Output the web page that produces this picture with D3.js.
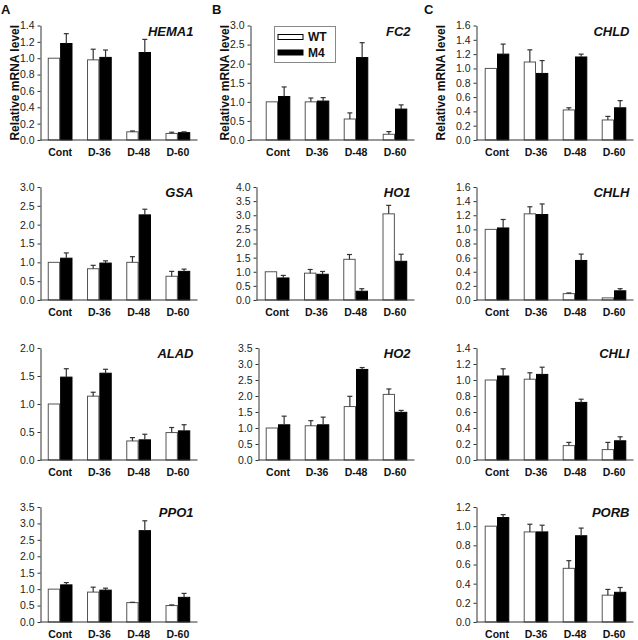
<!DOCTYPE html>
<html>
<head>
<meta charset="utf-8">
<script src="https://cdn.jsdelivr.net/npm/d3@7"></script>
<style>
  html, body { margin: 0; padding: 0; background: #fff; }
  svg { display: block; font-family: "Liberation Sans", Arial, sans-serif; }
</style>
</head>
<body>
<svg id="chart" width="638" height="640"></svg>
<script>
// ---------- DATA ----------
const categories = ["Cont", "D-36", "D-48", "D-60"];
const seriesNames = ["WT", "M4"];

const HEMA1_WT = [1.00, 0.98, 0.10, 0.08];
const HEMA1_WT_ERR = [0, 0.13, 0.01, 0.015];
const HEMA1_M4 = [1.18, 1.01, 1.07, 0.09];
const HEMA1_M4_ERR = [0.12, 0.09, 0.16, 0.01];
const HEMA1_TICKS = [0, 0.2, 0.4, 0.6, 0.8, 1.0, 1.2, 1.4];

const GSA_WT = [1.00, 0.83, 1.00, 0.63];
const GSA_WT_ERR = [0, 0.09, 0.15, 0.13];
const GSA_M4 = [1.11, 0.98, 2.26, 0.76];
const GSA_M4_ERR = [0.14, 0.06, 0.15, 0.06];
const GSA_TICKS = [0, 0.5, 1.0, 1.5, 2.0, 2.5, 3.0];

const ALAD_WT = [1.00, 1.14, 0.34, 0.49];
const ALAD_WT_ERR = [0, 0.07, 0.06, 0.09];
const ALAD_M4 = [1.48, 1.55, 0.36, 0.52];
const ALAD_M4_ERR = [0.15, 0.07, 0.10, 0.11];
const ALAD_TICKS = [0, 0.5, 1.0, 1.5, 2.0];

const PPO1_WT = [1.00, 0.91, 0.59, 0.50];
const PPO1_WT_ERR = [0, 0.15, 0.01, 0.02];
const PPO1_M4 = [1.13, 0.97, 2.78, 0.75];
const PPO1_M4_ERR = [0.07, 0.06, 0.30, 0.12];
const PPO1_TICKS = [0, 0.5, 1.0, 1.5, 2.0, 2.5, 3.0, 3.5];

const FC2_WT = [1.00, 1.00, 0.55, 0.15];
const FC2_WT_ERR = [0, 0.10, 0.16, 0.07];
const FC2_M4 = [1.14, 1.02, 2.16, 0.81];
const FC2_M4_ERR = [0.25, 0.09, 0.39, 0.11];
const FC2_TICKS = [0, 0.5, 1.0, 1.5, 2.0, 2.5, 3.0];

const HO1_WT = [1.00, 0.95, 1.44, 3.05];
const HO1_WT_ERR = [0, 0.13, 0.17, 0.30];
const HO1_M4 = [0.78, 0.91, 0.31, 1.37];
const HO1_M4_ERR = [0.09, 0.10, 0.09, 0.25];
const HO1_TICKS = [0, 0.5, 1.0, 1.5, 2.0, 2.5, 3.0, 3.5, 4.0];

const HO2_WT = [1.00, 1.07, 1.67, 2.05];
const HO2_WT_ERR = [0, 0.16, 0.32, 0.17];
const HO2_M4 = [1.10, 1.10, 2.83, 1.49];
const HO2_M4_ERR = [0.27, 0.24, 0.06, 0.06];
const HO2_TICKS = [0, 0.5, 1.0, 1.5, 2.0, 2.5, 3.0, 3.5];

const CHLD_WT = [1.00, 1.09, 0.42, 0.28];
const CHLD_WT_ERR = [0, 0.17, 0.03, 0.05];
const CHLD_M4 = [1.20, 0.93, 1.16, 0.45];
const CHLD_M4_ERR = [0.14, 0.18, 0.04, 0.10];
const CHLD_TICKS = [0, 0.2, 0.4, 0.6, 0.8, 1.0, 1.2, 1.4, 1.6];

const CHLH_WT = [1.00, 1.22, 0.09, 0.03];
const CHLH_WT_ERR = [0, 0.10, 0.01, 0];
const CHLH_M4 = [1.02, 1.21, 0.56, 0.13];
const CHLH_M4_ERR = [0.12, 0.15, 0.09, 0.03];
const CHLH_TICKS = [0, 0.2, 0.4, 0.6, 0.8, 1.0, 1.2, 1.4, 1.6];

const CHLI_WT = [1.00, 1.01, 0.18, 0.13];
const CHLI_WT_ERR = [0, 0.08, 0.04, 0.09];
const CHLI_M4 = [1.05, 1.07, 0.72, 0.24];
const CHLI_M4_ERR = [0.09, 0.09, 0.04, 0.05];
const CHLI_TICKS = [0, 0.2, 0.4, 0.6, 0.8, 1.0, 1.2, 1.4];

const PORB_WT = [1.00, 0.94, 0.56, 0.28];
const PORB_WT_ERR = [0, 0.08, 0.08, 0.06];
const PORB_M4 = [1.09, 0.94, 0.90, 0.31];
const PORB_M4_ERR = [0.03, 0.07, 0.08, 0.05];
const PORB_TICKS = [0, 0.2, 0.4, 0.6, 0.8, 1.0, 1.2];

const yLabel = "Relative mRNA level";

// ---------- LAYOUT ----------
const rowsY = [[25.5, 140], [187, 300], [348, 460], [507, 622]];
const panels = [
  {gene: "HEMA1", wt: HEMA1_WT, wtE: HEMA1_WT_ERR, m4: HEMA1_M4, m4E: HEMA1_M4_ERR, ticks: HEMA1_TICKS, fmt: ".1f", row: 0, axisX: 40.5, b0: 40.5, b1: 197.5, ylab: 15.3, letter: "A", lx: 1},
  {gene: "GSA", wt: GSA_WT, wtE: GSA_WT_ERR, m4: GSA_M4, m4E: GSA_M4_ERR, ticks: GSA_TICKS, row: 1, axisX: 40.5, b0: 40.5, b1: 197.5},
  {gene: "ALAD", wt: ALAD_WT, wtE: ALAD_WT_ERR, m4: ALAD_M4, m4E: ALAD_M4_ERR, ticks: ALAD_TICKS, row: 2, axisX: 40.5, b0: 40.5, b1: 197.5},
  {gene: "PPO1", wt: PPO1_WT, wtE: PPO1_WT_ERR, m4: PPO1_M4, m4E: PPO1_M4_ERR, ticks: PPO1_TICKS, row: 3, axisX: 40.5, b0: 40.5, b1: 197.5},
  {gene: "FC2", wt: FC2_WT, wtE: FC2_WT_ERR, m4: FC2_M4, m4E: FC2_M4_ERR, ticks: FC2_TICKS, row: 0, axisX: 250.5, b0: 258.5, b1: 414.5, ylab: 224.7, letter: "B", lx: 212, legend: true},
  {gene: "HO1", wt: HO1_WT, wtE: HO1_WT_ERR, m4: HO1_M4, m4E: HO1_M4_ERR, ticks: HO1_TICKS, row: 1, axisX: 256.5, b0: 257.5, b1: 414.5},
  {gene: "HO2", wt: HO2_WT, wtE: HO2_WT_ERR, m4: HO2_M4, m4E: HO2_M4_ERR, ticks: HO2_TICKS, row: 2, axisX: 258.5, b0: 258.5, b1: 414.5},
  {gene: "CHLD", wt: CHLD_WT, wtE: CHLD_WT_ERR, m4: CHLD_M4, m4E: CHLD_M4_ERR, ticks: CHLD_TICKS, row: 0, axisX: 476.5, b0: 477.5, b1: 633.5, ylab: 441, letter: "C", lx: 424},
  {gene: "CHLH", wt: CHLH_WT, wtE: CHLH_WT_ERR, m4: CHLH_M4, m4E: CHLH_M4_ERR, ticks: CHLH_TICKS, row: 1, axisX: 476.5, b0: 477.5, b1: 633.5},
  {gene: "CHLI", wt: CHLI_WT, wtE: CHLI_WT_ERR, m4: CHLI_M4, m4E: CHLI_M4_ERR, ticks: CHLI_TICKS, row: 2, axisX: 476.5, b0: 477.5, b1: 633.5},
  {gene: "PORB", wt: PORB_WT, wtE: PORB_WT_ERR, m4: PORB_M4, m4E: PORB_M4_ERR, ticks: PORB_TICKS, row: 3, axisX: 476.5, b0: 477.5, b1: 633.5}
];

const svg = d3.select("#chart");
const fill = {WT: "#ffffff", M4: "#000000"};
const stroke = {WT: "#555555", M4: "#000000"};

panels.forEach(p => {
  const [top, zero] = rowsY[p.row];
  const g = svg.append("g");
  const ymax = p.ticks[p.ticks.length - 1];
  const y = d3.scaleLinear().domain([0, ymax]).range([zero, top]);
  const x = d3.scaleBand().domain(categories).range([p.b0, p.b1])
    .paddingInner(0.37).paddingOuter(0.185);
  const xs = d3.scaleBand().domain(seriesNames).range([0, x.bandwidth()]);

  // y axis
  const yAxis = g.append("g").attr("transform", `translate(${p.axisX},0)`)
    .call(d3.axisLeft(y).tickValues(p.ticks).tickFormat(d3.format(".1f")).tickSize(3).tickSizeOuter(0).tickPadding(3));
  yAxis.select(".domain").attr("stroke", "#333");
  yAxis.selectAll(".tick line").attr("stroke", "#333");
  yAxis.selectAll("text").attr("font-size", 10.5).attr("fill", "#222")
    .attr("font-family", "'Liberation Sans', Arial, sans-serif");

  // bars
  const rows = categories.map((c, i) => ({
    cat: c,
    vals: [
      {s: "WT", v: p.wt[i], e: p.wtE[i]},
      {s: "M4", v: p.m4[i], e: p.m4E[i]}
    ]
  }));
  const grp = g.selectAll(".grp").data(rows).enter().append("g")
    .attr("transform", d => `translate(${x(d.cat)},0)`);
  grp.selectAll("rect").data(d => d.vals).enter().append("rect")
    .attr("x", d => xs(d.s) + 0.5)
    .attr("y", d => y(d.v))
    .attr("width", xs.bandwidth() - 1)
    .attr("height", d => zero - y(d.v))
    .attr("fill", d => fill[d.s])
    .attr("stroke", d => stroke[d.s])
    .attr("stroke-width", 1);
  // error bars (upper only)
  const eb = grp.selectAll(".err").data(d => d.vals.filter(v => v.e > 0)).enter().append("g");
  eb.append("line")
    .attr("x1", d => xs(d.s) + xs.bandwidth() / 2)
    .attr("x2", d => xs(d.s) + xs.bandwidth() / 2)
    .attr("y1", d => y(d.v))
    .attr("y2", d => y(d.v + d.e))
    .attr("stroke", "#333").attr("stroke-width", 1.2);
  eb.append("line")
    .attr("x1", d => xs(d.s) + xs.bandwidth() / 2 - 2.5)
    .attr("x2", d => xs(d.s) + xs.bandwidth() / 2 + 2.5)
    .attr("y1", d => y(d.v + d.e))
    .attr("y2", d => y(d.v + d.e))
    .attr("stroke", "#333").attr("stroke-width", 1.2);

  // x axis line
  g.append("line").attr("x1", p.axisX).attr("x2", p.b1)
    .attr("y1", zero).attr("y2", zero).attr("stroke", "#333").attr("stroke-width", 1);
  const xAxis = g.append("g").attr("transform", `translate(0,${zero})`)
    .call(d3.axisBottom(x).tickSize(0).tickPadding(9));
  xAxis.select(".domain").remove();
  xAxis.selectAll("text").attr("font-size", 10.5).attr("font-weight", "bold").attr("fill", "#111")
    .attr("font-family", "'Liberation Sans', Arial, sans-serif");

  // gene title
  g.append("text").attr("x", p.b1 - 4).attr("y", top + 10)
    .attr("text-anchor", "end").attr("font-size", 13).attr("font-weight", "bold")
    .attr("font-style", "italic").attr("fill", "#111").text(p.gene);

  if (p.ylab !== undefined) {
    g.append("text").attr("transform", `translate(${p.ylab + 4},${(top + zero) / 2}) rotate(-90)`)
      .attr("text-anchor", "middle").attr("font-size", 12).attr("font-weight", "bold")
      .attr("fill", "#111").text(yLabel);
  }
  if (p.letter) {
    svg.append("text").attr("x", p.lx).attr("y", 14).attr("font-size", 13)
      .attr("font-weight", "bold").attr("fill", "#111").text(p.letter);
  }
  if (p.legend) {
    const lg = g.append("g");
    lg.append("rect").attr("x", 274.5).attr("y", 26.5).attr("width", 61).attr("height", 36)
      .attr("fill", "#fff").attr("stroke", "#888").attr("stroke-width", 1);
    seriesNames.forEach((s, i) => {
      const cy = 37 + i * 15.5;
      lg.append("rect").attr("x", 278).attr("y", cy - 2.5).attr("width", 25).attr("height", 5)
        .attr("fill", fill[s]).attr("stroke", "#000").attr("stroke-width", 1);
      lg.append("text").attr("x", 308).attr("y", cy + 4.3).attr("font-size", 12)
        .attr("font-weight", "bold").attr("fill", "#111").text(s);
    });
  }
});
</script>
</body>
</html>
